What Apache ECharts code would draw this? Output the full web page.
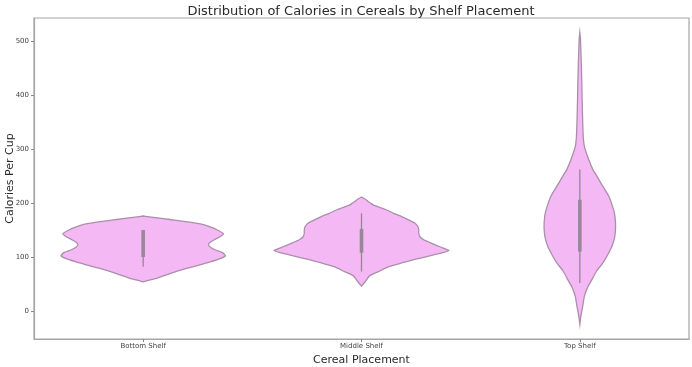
<!DOCTYPE html>
<html>
<head>
<meta charset="utf-8">
<script src="https://cdn.jsdelivr.net/npm/echarts@6/dist/echarts.min.js"></script>
<style>
html,body{margin:0;padding:0;background:#fff;}
#chart{width:692px;height:367px;}
</style>
</head>
<body>
<div id="chart"></div>
<script>
const categories = ['Bottom Shelf', 'Middle Shelf', 'Top Shelf'];
const yTicks = [0, 100, 200, 300, 400, 500];

// violin outlines: calorie value and relative density (half width) at that value
const bottomValues  = [54, 56, 58, 61, 65, 70, 76, 83, 89, 95, 102, 108, 113, 118, 123, 128, 133, 138, 143, 150, 155, 160, 164, 168, 171, 174, 176];
const bottomDensity = [0, 4, 8, 14, 20, 28, 38, 52, 63, 74, 82, 79, 72, 67, 65, 67, 72, 77, 80, 74, 68, 60, 48, 33, 20, 8, 0];

const middleValues  = [46, 55, 65, 73, 82, 89, 95, 104, 112, 119, 126, 132, 138, 144, 150, 157, 163, 168, 175, 181, 188, 196, 200, 203, 207, 211];
const middleDensity = [0, 4, 8, 17, 27, 40, 52, 72, 87, 78, 69, 62, 58, 57, 57, 56, 53, 48, 40, 32, 24, 12, 9, 6.5, 4, 0];

const topValues  = [-25, -10, 10, 27, 45, 58, 75, 89, 105, 120, 135, 150, 165, 181, 197, 212, 225, 237, 250, 262, 275, 290, 305, 320, 340, 360, 390, 420, 450, 480, 505, 516];
const topDensity = [0, 1, 3, 4.5, 8, 12, 17, 23, 28, 32, 34.5, 35.5, 35.5, 34.5, 32, 29, 25, 21, 17, 13, 10, 7, 4.5, 3.5, 3, 2.7, 2.3, 2, 1.6, 1.1, 0.6, 0];

// inner box statistics
const whiskerLow  = [82, 73, 52];
const whiskerHigh = [150, 181, 262];
const q1 = [100, 108, 110];
const q3 = [150, 152, 206];

const violinValues = [bottomValues, middleValues, topValues];
const violinDensity = [bottomDensity, middleDensity, topDensity];
const maxDensity = Math.max(...bottomDensity, ...middleDensity, ...topDensity);

const chart = echarts.init(document.getElementById('chart'), null, {renderer: 'canvas'});

function renderViolin(params, api) {
  const i = params.dataIndex;
  const band = api.size([1, 0])[0];
  const scale = 0.8 * band / 2 / maxDensity;
  const ys = violinValues[i], ds = violinDensity[i];
  const right = [], left = [];
  for (let k = 0; k < ys.length; k++) {
    const p = api.coord([i, ys[k]]);
    right.push([p[0] + ds[k] * scale, p[1]]);
    left.unshift([p[0] - ds[k] * scale, p[1]]);
  }
  const wl = api.coord([i, whiskerLow[i]]);
  const wh = api.coord([i, whiskerHigh[i]]);
  const b1 = api.coord([i, q1[i]]);
  const b3 = api.coord([i, q3[i]]);
  return {
    type: 'group',
    children: [
      {
        type: 'polygon',
        shape: {points: right.concat(left), smooth: 0.15},
        style: {fill: '#f4b9f4', stroke: '#a98fa9', lineWidth: 1.3}
      },
      {
        type: 'line',
        shape: {x1: wl[0], y1: wl[1], x2: wh[0], y2: wh[1]},
        style: {stroke: '#958695', lineWidth: 1.3}
      },
      {
        type: 'line',
        shape: {x1: b1[0], y1: b1[1], x2: b3[0], y2: b3[1]},
        style: {stroke: '#978797', lineWidth: 3.6}
      }
    ]
  };
}

chart.setOption({
  animation: false,
  backgroundColor: '#ffffff',
  title: {
    text: 'Distribution of Calories in Cereals by Shelf Placement',
    left: 356, top: 0, textAlign: 'center',
    textStyle: {fontFamily: 'DejaVu Sans', fontSize: 13, fontWeight: 'normal', color: '#2a2a2a'}
  },
  grid: {
    left: 34, right: 3, top: 18, bottom: 28,
    containLabel: false,
    outerBoundsMode: 'none',
    show: true, borderColor: '#a6a6a6', borderWidth: 1.2, backgroundColor: '#ffffff'
  },
  xAxis: {
    type: 'category',
    data: categories,
    boundaryGap: true,
    name: 'Cereal Placement',
    nameLocation: 'middle',
    nameGap: 11,
    nameTextStyle: {fontFamily: 'DejaVu Sans', fontSize: 11, color: '#2a2a2a'},
    axisLine: {show: true, onZero: false, lineStyle: {color: '#a6a6a6', width: 1.2}},
    axisTick: {show: true, alignWithLabel: true, length: 3, lineStyle: {color: '#888'}},
    axisLabel: {fontFamily: 'DejaVu Sans', fontSize: 7, color: '#444', margin: 4},
    splitLine: {show: false}
  },
  yAxis: {
    type: 'value',
    min: -52, max: 543,
    name: 'Calories Per Cup',
    nameLocation: 'middle',
    nameGap: 18,
    nameRotate: 90,
    nameMoveOverlap: false,
    nameTextStyle: {fontFamily: 'DejaVu Sans', fontSize: 11, color: '#2a2a2a'},
    axisLine: {show: true, onZero: false, lineStyle: {color: '#a6a6a6', width: 1.2}},
    axisTick: {show: true, length: 3, customValues: yTicks, lineStyle: {color: '#888'}},
    axisLabel: {fontFamily: 'DejaVu Sans', fontSize: 7, color: '#444', margin: 5, customValues: yTicks},
    splitLine: {show: false}
  },
  series: [{
    type: 'custom',
    renderItem: renderViolin,
    data: categories.map((c, i) => [i, whiskerHigh[i]]),
    encode: {x: 0, y: 1},
    clip: false
  }]
});
</script>
</body>
</html>
